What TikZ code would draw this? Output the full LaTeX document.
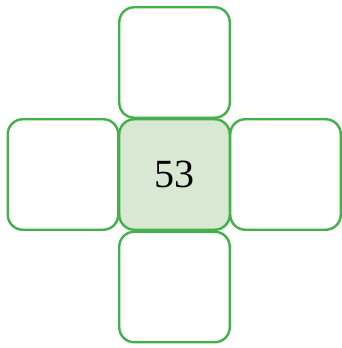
\documentclass[tikz,border=0pt]{standalone}
\usepackage{fontspec}
\setmainfont{Liberation Serif}
\definecolor{boxline}{RGB}{67,176,73}
\definecolor{boxfill}{RGB}{216,232,211}
\begin{document}
\begin{tikzpicture}[x=1pt,y=1pt,
  cell/.style={draw=boxline, line width=2.4pt, rounded corners=15pt,
    minimum width=110.5pt, minimum height=110.5pt, inner sep=0pt, fill=white},
  centercell/.style={cell, fill=boxfill, font=\fontsize{40}{40}\selectfont}]
\useasboundingbox (0,0) rectangle (342,348);
\node[cell] (top) at (174.5,285.5) {};
\node[cell] (bottom) at (174.5,61) {};
\node[cell] (left) at (63,173.5) {};
\node[cell] (right) at (285.5,173.5) {};
\node[centercell] (mid) at (174.5,173.5) {53};
\end{tikzpicture}
\end{document}
